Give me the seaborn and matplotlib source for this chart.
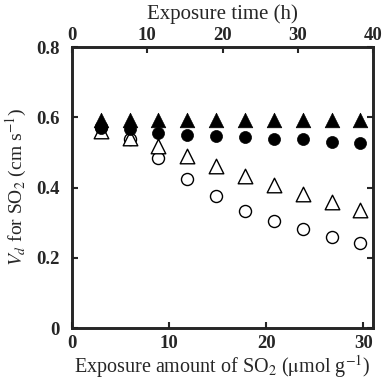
import matplotlib
matplotlib.use("Agg")
import matplotlib.pyplot as plt
import seaborn as sns
import pandas as pd

# Exposure amount of SO2 (umol g-1)
x_amount = [3.0, 6.0, 8.9, 11.8, 14.8, 17.8, 20.8, 23.8, 26.8, 29.7]
filled_tri = [0.592, 0.592, 0.591, 0.591, 0.591, 0.591, 0.591, 0.591, 0.591, 0.591]
filled_circ = [0.571, 0.566, 0.556, 0.549, 0.547, 0.543, 0.539, 0.537, 0.530, 0.528]
open_tri = [0.562, 0.540, 0.518, 0.490, 0.462, 0.433, 0.407, 0.381, 0.358, 0.336]
open_circ = [0.573, 0.537, 0.483, 0.425, 0.376, 0.334, 0.305, 0.281, 0.260, 0.243]

bottom_ticks = [0, 10, 20, 30]
left_ticks = [0, 0.2, 0.4, 0.6, 0.8]
left_labels = ["0", "0.2", "0.4", "0.6", "0.8"]
top_ticks = [0, 10, 20, 30, 40]

sns.set_style("white")
plt.rcParams["font.family"] = ["Liberation Serif", "DejaVu Serif"]
plt.rcParams["mathtext.fontset"] = "stix"

fig = plt.figure(figsize=(3.85, 3.83), dpi=100)
ax = fig.add_axes([0.187, 0.1436, 0.782, 0.7334])

df = pd.DataFrame({"x": x_amount, "ft": filled_tri, "fc": filled_circ,
                   "ot": open_tri, "oc": open_circ})

sns.scatterplot(data=df, x="x", y="oc", ax=ax, marker="o", s=75,
                facecolor="white", edgecolor="black", linewidth=1.0, zorder=3)
sns.scatterplot(data=df, x="x", y="ot", ax=ax, marker="^", s=110,
                facecolor="white", edgecolor="black", linewidth=1.0, zorder=3)
sns.scatterplot(data=df, x="x", y="fc", ax=ax, marker="o", s=75,
                color="black", edgecolor="black", linewidth=0.5, zorder=4)
sns.scatterplot(data=df, x="x", y="ft", ax=ax, marker="^", s=110,
                color="black", edgecolor="black", linewidth=0.5, zorder=5)

ax.set_xlim(0, 31)
ax.set_ylim(0, 0.8)
ax.set_xticks(bottom_ticks)
ax.set_yticks(left_ticks)
ax.set_yticklabels(left_labels)
for s in ax.spines.values():
    s.set_linewidth(1.8)
    s.set_color("black")
ax.tick_params(axis="both", direction="in", length=4, width=1.5, labelsize=13.5,
               right=True, left=True, bottom=True, top=False)
ax.tick_params(axis="y", pad=9)
ax.tick_params(axis="x", pad=5)
for lab in ax.get_yticklabels() + ax.get_xticklabels():
    lab.set_fontweight("bold")
ax.set_xlabel("Exposure amount of SO$_2$ ($\\mathrm{\\mu}$mol g$^{-1}$)", fontsize=14.5, labelpad=1)
ax.set_ylabel("$V_d$ for SO$_2$ (cm s$^{-1}$)", fontsize=14, labelpad=5)

ax2 = ax.twiny()
ax2.set_xlim(0, 40)
ax2.set_xticks(top_ticks)
ax2.tick_params(direction="in", length=4, width=1.5, labelsize=13.5, pad=2)
for lab in ax2.get_xticklabels():
    lab.set_fontweight("bold")
ax2.set_xlabel("Exposure time (h)", fontsize=15, labelpad=6)
for s in ax2.spines.values():
    s.set_linewidth(1.8)

fig.savefig("out.png", dpi=100)
